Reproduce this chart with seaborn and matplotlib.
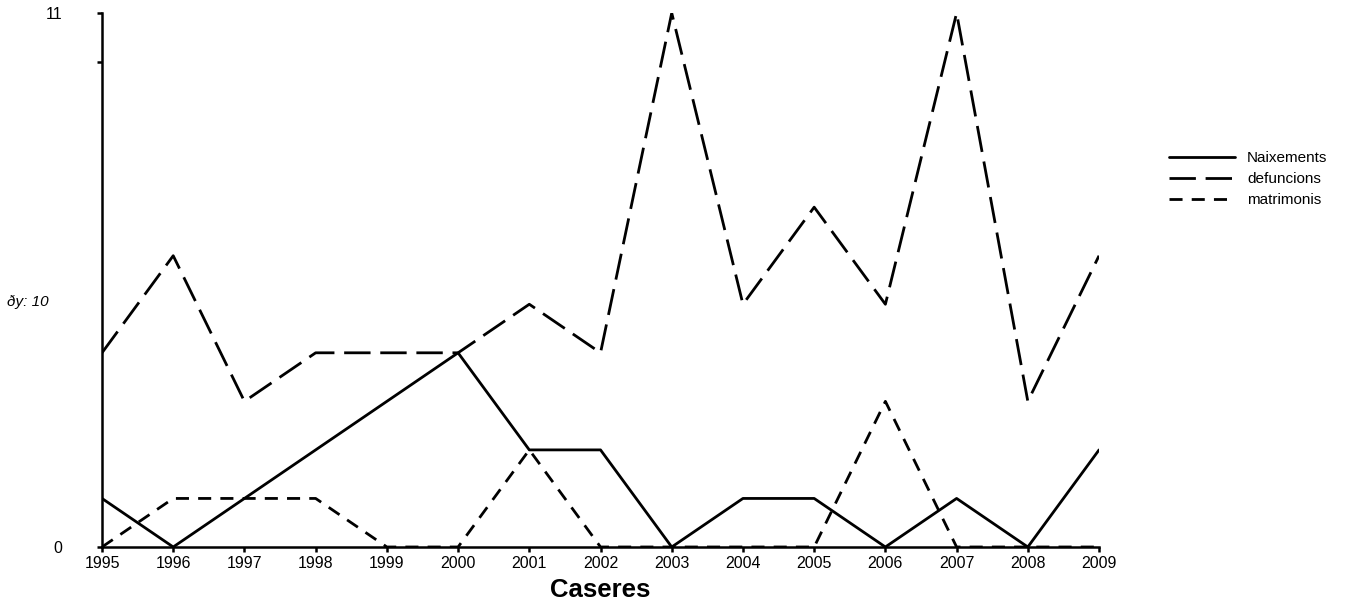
import matplotlib
matplotlib.use("Agg")
import matplotlib.pyplot as plt
import seaborn as sns
import pandas as pd
from matplotlib.lines import Line2D

years = list(range(1995, 2010))
naixements = [1, 0, 1, 2, 3, 4, 2, 2, 0, 1, 1, 0, 1, 0, 2]
defuncions = [4, 6, 3, 4, 4, 4, 5, 4, 11, 5, 7, 5, 11, 3, 6]
matrimonis = [0, 1, 1, 1, 0, 0, 2, 0, 0, 0, 0, 3, 0, 0, 0]
series_names = ["Naixements", "defuncions", "matrimonis"]

sns.set_style("white")
plt.rcParams['font.family'] = ['Liberation Sans', 'DejaVu Sans']
plt.rcParams['text.color'] = 'black'
plt.rcParams['xtick.color'] = 'black'
plt.rcParams['ytick.color'] = 'black'
plt.rcParams['axes.labelcolor'] = 'black'

df = pd.DataFrame({"year": years, "Naixements": naixements,
                   "defuncions": defuncions, "matrimonis": matrimonis})
long = df.melt(id_vars="year", var_name="serie", value_name="valor")

dash_map = {"Naixements": "", "defuncions": (9.5, 3.5), "matrimonis": (4.7, 3.3)}

fig = plt.figure(figsize=(13.51, 6.10), dpi=100)
ax = fig.add_axes([0.0755, 0.1033, 0.738, 0.8754])

sns.lineplot(data=long, x="year", y="valor", hue="serie", style="serie",
             hue_order=series_names, style_order=series_names,
             palette=["black"] * 3, dashes=dash_map,
             linewidth=2.0, ax=ax, legend=False)

ax.set_xlim(1995, 2009)
ax.set_ylim(0, 11)
ax.set_xticks(years)
ax.set_xticklabels([str(y) for y in years], fontsize=11.5)
ax.set_yticks([0, 10, 11])
ax.set_yticklabels(["0", "", "11"], fontsize=11.5)
ax.tick_params(axis="both", direction="out", length=3.5, width=1.8,
               bottom=True, left=True)
ax.tick_params(axis="x", pad=3)
ax.tick_params(axis="y", pad=25)
for s in ["top", "right"]:
    ax.spines[s].set_visible(False)
for s in ["left", "bottom"]:
    ax.spines[s].set_color("black")
    ax.spines[s].set_linewidth(1.8)
ax.set_xlabel("Caseres", fontsize=18.5, fontweight="bold", labelpad=5)
ax.set_ylabel("")
fig.text(0.005, 0.505, "ðy: 10", fontsize=11, style="italic", va="center", ha="left")

handles = [Line2D([], [], color="black", lw=2.0, linestyle="-"),
           Line2D([], [], color="black", lw=2.0, dashes=dash_map["defuncions"]),
           Line2D([], [], color="black", lw=2.0, dashes=dash_map["matrimonis"])]
fig.legend(handles, series_names, loc="upper left", bbox_to_anchor=(0.861, 0.762),
           frameon=False, fontsize=11, handlelength=4.3, labelspacing=0.45,
           handletextpad=0.8, borderaxespad=0)

fig.savefig("out.png", dpi=100)
